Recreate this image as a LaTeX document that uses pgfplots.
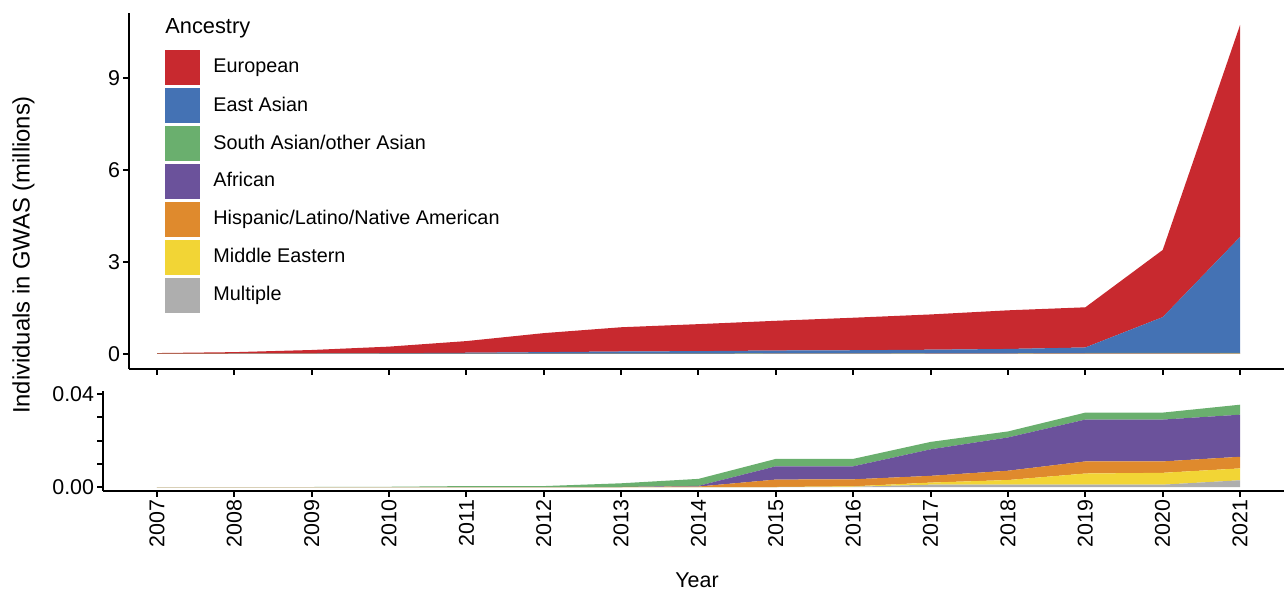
\documentclass[border=0pt]{standalone}
\usepackage{fontspec}
\setmainfont{Liberation Sans}
\usepackage{pgfplots}
\usepackage{pgfplotstable}
\pgfplotsset{compat=1.18}
\definecolor{cEur}{RGB}{200,41,47}
\definecolor{cEas}{RGB}{68,114,180}
\definecolor{cSas}{RGB}{106,175,110}
\definecolor{cAfr}{RGB}{107,82,155}
\definecolor{cHisp}{RGB}{223,138,45}
\definecolor{cMe}{RGB}{242,213,53}
\definecolor{cMult}{RGB}{174,174,174}

% values in millions of individuals (increments, stacked)
\pgfplotstableread{
year mult   me     hisp   afr    sas    eas   eur
2007 0      0      0      0      0      0.002 0.028
2008 0      0      0      0      0      0.008 0.052
2009 0      0      0      0      0      0.015 0.115
2010 0      0      0      0      0.0001 0.025 0.215
2011 0      0      0      0      0.0004 0.040 0.380
2012 0      0      0      0      0.0004 0.060 0.620
2013 0      0      0      0      0.0016 0.080 0.790
2014 0      0      0.0002 0.0003 0.0030 0.090 0.880
2015 0      0      0.0032 0.0057 0.0032 0.100 0.970
2016 0.0001 0.0002 0.0030 0.0056 0.0032 0.110 1.060
2017 0.0010 0.0009 0.0029 0.0114 0.0032 0.120 1.150
2018 0.0010 0.0020 0.0040 0.0143 0.0026 0.140 1.260
2019 0.0010 0.0048 0.0052 0.0180 0.0030 0.180 1.310
2020 0.0010 0.0051 0.0049 0.0180 0.0030 1.170 2.190
2021 0.0029 0.0051 0.0050 0.0181 0.0043 3.780 6.915
}\datatable

\pgfplotsset{
  panel/.style={
    scale only axis,
    axis x line=bottom, axis y line=left,
    axis line style={-, line width=1pt, black},
    every tick/.style={line width=1pt, black},
    tick align=outside,
    major tick length=2.8pt,
    xtick={2007,...,2021},
    xmax=2021.568,
    stack plots=y,
    scaled x ticks=false, scaled y ticks=false,
    tick label style={font=\fontsize{10.7}{12}\selectfont, inner sep=1.5pt},
    /pgf/number format/assume math mode=true,
    /pgf/number format/1000 sep={},
  }
}

\begin{document}
\begin{tikzpicture}
\path[use as bounding box] (0,0) rectangle (642pt,295.5pt);

% ---------- top panel ----------
\begin{axis}[panel,
  at={(64.5pt,111pt)}, anchor=south west,
  width=577.5pt, height=178pt,
  xmin=2006.638,
  ymin=-0.49, ymax=11.12,
  ytick={0,3,6,9},
  xticklabels={},
  reverse legend,
  legend cell align=left,
  legend image code/.code={\fill[#1] (0pt,-8.75pt) rectangle (17.5pt,8.75pt);},
  legend style={at={(axis description cs:0.0312,0.8969)}, anchor=north west,
    draw=none, fill=none, inner sep=0pt, row sep=1.45pt, column sep=6.5pt,
    font=\fontsize{9.9}{11}\selectfont, nodes={inner sep=0pt}},
]
\addplot[fill=cMult, draw=none] table[x=year,y=mult]{\datatable} \closedcycle;
\addplot[fill=cMe, draw=none] table[x=year,y=me]{\datatable} \closedcycle;
\addplot[fill=cHisp, draw=none] table[x=year,y=hisp]{\datatable} \closedcycle;
\addplot[fill=cAfr, draw=none] table[x=year,y=afr]{\datatable} \closedcycle;
\addplot[fill=cSas, draw=none] table[x=year,y=sas]{\datatable} \closedcycle;
\addplot[fill=cEas, draw=none] table[x=year,y=eas]{\datatable} \closedcycle;
\addplot[fill=cEur, draw=none] table[x=year,y=eur]{\datatable} \closedcycle;
\legend{Multiple, Middle Eastern, Hispanic/Latino/Native American, African, South Asian/other Asian, East Asian, European}
\end{axis}

% ---------- bottom panel ----------
\begin{axis}[panel,
  at={(51.5pt,50pt)}, anchor=south west,
  width=590.5pt, height=50pt,
  xmin=2006.302,
  ymin=-0.00172, ymax=0.04129,
  ytick={0,0.01,0.02,0.03,0.04},
  yticklabels={0.00,,,,0.04},
  xticklabel style={rotate=90, anchor=east},
]
\addplot[fill=cMult, draw=none] table[x=year,y=mult]{\datatable} \closedcycle;
\addplot[fill=cMe, draw=none] table[x=year,y=me]{\datatable} \closedcycle;
\addplot[fill=cHisp, draw=none] table[x=year,y=hisp]{\datatable} \closedcycle;
\addplot[fill=cAfr, draw=none] table[x=year,y=afr]{\datatable} \closedcycle;
\addplot[fill=cSas, draw=none] table[x=year,y=sas]{\datatable} \closedcycle;
\end{axis}

\node[anchor=base west, inner sep=0pt, font=\fontsize{10.9}{12}\selectfont] at (82.5pt,279pt) {Ancestry};
\node[rotate=90, inner sep=0pt, font=\fontsize{11.9}{13}\selectfont] at (11.7pt,168pt) {Individuals in GWAS (millions)};
\node[inner sep=0pt, font=\fontsize{10.7}{12}\selectfont] at (348.5pt,5.5pt) {Year};
\end{tikzpicture}
\end{document}
